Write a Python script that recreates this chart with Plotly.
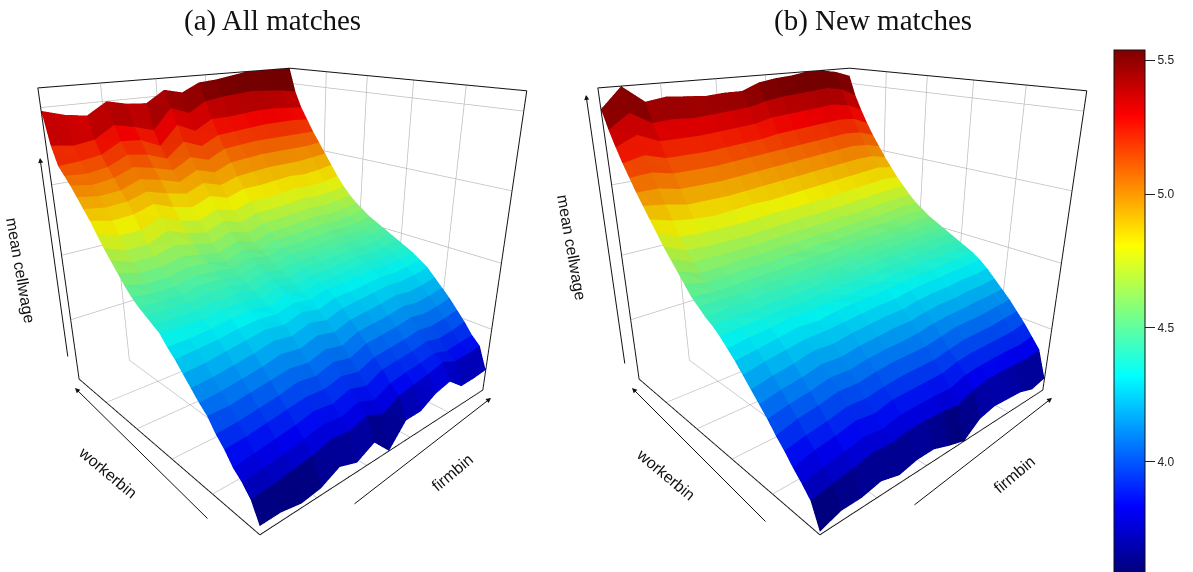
import plotly.graph_objects as go

W, H = 1193, 572

firm_bins = list(range(1, 16))
worker_bins = list(range(1, 31))

z_all = [
 [3.56,3.56,3.53,3.55,3.62,3.57,3.64,3.50,3.66,3.66,3.73,3.76,3.66,3.66,3.67],
 [3.69,3.70,3.72,3.74,3.78,3.76,3.80,3.74,3.81,3.83,3.85,3.88,3.83,3.83,3.84],
 [3.76,3.77,3.79,3.81,3.84,3.82,3.86,3.81,3.87,3.89,3.90,3.92,3.88,3.89,3.90],
 [3.81,3.83,3.85,3.87,3.90,3.88,3.92,3.88,3.94,3.95,3.96,3.98,3.95,3.96,3.98],
 [3.89,3.90,3.92,3.94,3.96,3.95,3.98,3.95,4.00,4.01,4.02,4.04,4.02,4.03,4.05],
 [3.95,3.96,3.98,4.00,4.03,4.01,4.05,4.02,4.07,4.08,4.09,4.11,4.09,4.10,4.12],
 [4.03,4.03,4.05,4.07,4.09,4.07,4.11,4.08,4.13,4.14,4.15,4.17,4.15,4.16,4.18],
 [4.08,4.09,4.11,4.13,4.16,4.14,4.18,4.15,4.19,4.20,4.21,4.23,4.21,4.22,4.24],
 [4.14,4.15,4.17,4.19,4.22,4.20,4.24,4.21,4.25,4.26,4.27,4.28,4.27,4.28,4.30],
 [4.20,4.21,4.23,4.25,4.27,4.25,4.29,4.26,4.30,4.30,4.31,4.32,4.31,4.32,4.34],
 [4.26,4.27,4.28,4.30,4.31,4.30,4.33,4.31,4.34,4.34,4.35,4.36,4.35,4.36,4.38],
 [4.31,4.31,4.32,4.34,4.35,4.33,4.37,4.34,4.37,4.37,4.38,4.39,4.38,4.39,4.41],
 [4.37,4.36,4.36,4.38,4.38,4.36,4.40,4.37,4.40,4.40,4.41,4.42,4.41,4.42,4.44],
 [4.40,4.39,4.39,4.41,4.41,4.39,4.43,4.40,4.43,4.43,4.44,4.45,4.44,4.45,4.47],
 [4.43,4.42,4.42,4.44,4.44,4.42,4.46,4.43,4.46,4.46,4.47,4.48,4.47,4.48,4.50],
 [4.46,4.45,4.45,4.47,4.47,4.45,4.49,4.46,4.49,4.49,4.50,4.51,4.50,4.51,4.53],
 [4.50,4.48,4.48,4.51,4.50,4.48,4.52,4.49,4.52,4.52,4.53,4.54,4.53,4.54,4.56],
 [4.55,4.52,4.52,4.55,4.54,4.51,4.56,4.52,4.56,4.56,4.57,4.58,4.57,4.58,4.60],
 [4.61,4.57,4.57,4.60,4.58,4.55,4.60,4.56,4.60,4.60,4.61,4.62,4.61,4.62,4.64],
 [4.67,4.62,4.62,4.66,4.63,4.60,4.65,4.61,4.65,4.65,4.66,4.67,4.66,4.67,4.69],
 [4.73,4.68,4.68,4.74,4.69,4.66,4.71,4.67,4.71,4.71,4.72,4.73,4.72,4.73,4.75],
 [4.80,4.76,4.76,4.82,4.76,4.73,4.78,4.74,4.78,4.78,4.79,4.80,4.79,4.80,4.82],
 [4.87,4.84,4.85,4.89,4.84,4.81,4.86,4.82,4.86,4.86,4.87,4.88,4.87,4.88,4.90],
 [4.93,4.91,4.92,4.96,4.92,4.89,4.94,4.90,4.94,4.95,4.96,4.96,4.96,4.97,4.98],
 [4.99,4.97,4.98,5.03,5.00,4.96,5.02,4.98,5.03,5.04,5.05,5.05,5.05,5.05,5.06],
 [5.05,5.03,5.05,5.10,5.07,5.03,5.10,5.06,5.12,5.13,5.14,5.14,5.14,5.14,5.14],
 [5.10,5.09,5.11,5.17,5.15,5.10,5.20,5.15,5.21,5.22,5.23,5.24,5.24,5.24,5.23],
 [5.15,5.16,5.18,5.25,5.24,5.18,5.31,5.25,5.32,5.32,5.33,5.34,5.34,5.33,5.32],
 [5.27,5.25,5.27,5.35,5.32,5.28,5.42,5.37,5.44,5.46,5.47,5.48,5.47,5.46,5.44],
 [5.48,5.44,5.42,5.50,5.47,5.46,5.54,5.51,5.57,5.58,5.60,5.62,5.62,5.62,5.62],
]

z_new = [
 [3.52,3.57,3.57,3.60,3.56,3.59,3.59,3.54,3.50,3.60,3.63,3.62,3.61,3.57,3.60],
 [3.68,3.71,3.73,3.76,3.75,3.77,3.77,3.76,3.74,3.79,3.81,3.81,3.80,3.79,3.81],
 [3.75,3.78,3.80,3.83,3.81,3.84,3.84,3.84,3.83,3.87,3.88,3.88,3.88,3.87,3.89],
 [3.81,3.85,3.87,3.90,3.88,3.91,3.91,3.91,3.91,3.94,3.95,3.95,3.95,3.95,3.97],
 [3.88,3.91,3.93,3.96,3.95,3.97,3.98,3.98,3.98,4.00,4.02,4.02,4.02,4.03,4.04],
 [3.94,3.98,4.00,4.03,4.02,4.04,4.05,4.05,4.05,4.07,4.09,4.09,4.09,4.10,4.11],
 [4.01,4.04,4.06,4.09,4.08,4.10,4.11,4.11,4.12,4.14,4.15,4.15,4.16,4.16,4.17],
 [4.07,4.10,4.12,4.15,4.14,4.16,4.17,4.18,4.18,4.20,4.21,4.21,4.22,4.22,4.23],
 [4.13,4.16,4.18,4.21,4.20,4.22,4.23,4.24,4.24,4.26,4.27,4.27,4.28,4.28,4.29],
 [4.19,4.22,4.24,4.26,4.26,4.27,4.28,4.29,4.29,4.31,4.32,4.32,4.33,4.33,4.34],
 [4.25,4.27,4.29,4.31,4.30,4.32,4.33,4.33,4.34,4.35,4.36,4.36,4.37,4.37,4.38],
 [4.30,4.32,4.33,4.35,4.35,4.36,4.36,4.37,4.37,4.39,4.39,4.40,4.40,4.41,4.41],
 [4.35,4.36,4.37,4.38,4.38,4.39,4.40,4.40,4.41,4.42,4.42,4.43,4.43,4.44,4.44],
 [4.39,4.40,4.40,4.41,4.41,4.42,4.43,4.43,4.44,4.45,4.45,4.46,4.46,4.47,4.47],
 [4.42,4.43,4.43,4.44,4.44,4.45,4.46,4.46,4.47,4.48,4.48,4.49,4.49,4.50,4.50],
 [4.46,4.46,4.46,4.47,4.47,4.48,4.49,4.49,4.50,4.51,4.51,4.52,4.52,4.53,4.53],
 [4.50,4.49,4.49,4.50,4.50,4.51,4.52,4.52,4.53,4.54,4.54,4.55,4.55,4.56,4.56],
 [4.56,4.53,4.53,4.54,4.54,4.55,4.55,4.56,4.56,4.57,4.58,4.58,4.59,4.60,4.60],
 [4.62,4.57,4.57,4.58,4.58,4.59,4.59,4.60,4.60,4.61,4.62,4.62,4.63,4.64,4.64],
 [4.68,4.62,4.62,4.62,4.62,4.63,4.64,4.64,4.65,4.66,4.66,4.67,4.68,4.69,4.69],
 [4.74,4.68,4.67,4.67,4.67,4.68,4.69,4.70,4.70,4.71,4.72,4.73,4.74,4.75,4.75],
 [4.81,4.75,4.74,4.74,4.74,4.75,4.76,4.76,4.77,4.78,4.79,4.80,4.81,4.82,4.81],
 [4.88,4.84,4.82,4.81,4.82,4.83,4.83,4.84,4.85,4.86,4.87,4.88,4.89,4.90,4.88],
 [4.95,4.93,4.90,4.90,4.90,4.91,4.92,4.93,4.94,4.95,4.96,4.97,4.98,4.98,4.95],
 [5.02,5.02,4.99,4.99,4.99,5.00,5.01,5.02,5.03,5.04,5.05,5.06,5.07,5.06,5.03],
 [5.10,5.11,5.08,5.08,5.08,5.09,5.10,5.11,5.12,5.13,5.14,5.15,5.16,5.15,5.11],
 [5.18,5.21,5.17,5.17,5.17,5.18,5.19,5.20,5.22,5.23,5.24,5.25,5.26,5.25,5.20],
 [5.27,5.33,5.27,5.27,5.27,5.28,5.29,5.30,5.33,5.34,5.35,5.36,5.37,5.35,5.30],
 [5.37,5.46,5.38,5.39,5.38,5.39,5.40,5.41,5.44,5.46,5.47,5.48,5.49,5.47,5.41],
 [5.49,5.62,5.51,5.53,5.52,5.51,5.52,5.52,5.57,5.59,5.60,5.62,5.62,5.60,5.56],
]

jet = [[0, "#00007F"], [0.125, "#0000FF"], [0.375, "#00FFFF"],
       [0.625, "#FFFF00"], [0.875, "#FF0000"], [1, "#7F0000"]]
ZMIN, ZMAX = 3.59, 5.54


def mesh(z, name, scene, show_bar):
    nr, nc = len(worker_bins), len(firm_bins)
    xs, ys, zs, i, j, k, cell = [], [], [], [], [], [], []
    for r in range(nr):
        for c in range(nc):
            xs.append(firm_bins[c]); ys.append(worker_bins[r]); zs.append(z[r][c])
    for r in range(nr - 1):
        for c in range(nc - 1):
            a, b = r * nc + c, r * nc + c + 1
            d, e = (r + 1) * nc + c, (r + 1) * nc + c + 1
            m = (z[r][c] + z[r][c + 1] + z[r + 1][c] + z[r + 1][c + 1]) / 4
            i += [a, b]; j += [b, e]; k += [d, d]
            cell += [m, m]
    return go.Mesh3d(
        x=xs, y=ys, z=zs, i=i, j=j, k=k, name=name, scene=scene,
        intensity=cell, intensitymode="cell", colorscale=jet, cmin=ZMIN, cmax=ZMAX,
        flatshading=True,
        lighting=dict(ambient=0.62, diffuse=0.32, specular=0.0, roughness=1, fresnel=0),
        lightposition=dict(x=-1000, y=-1000, z=3000),
        showscale=show_bar,
        colorbar=dict(
            x=1114 / W, xanchor="left", y=1 - 49.5 / H, yanchor="top",
            thickness=31, thicknessmode="pixels", len=522, lenmode="pixels",
            tickvals=[4.0, 4.5, 5.0, 5.5], ticktext=["4.0", "4.5", "5.0", "5.5"],
            ticks="outside", ticklen=10, tickwidth=1, tickcolor="#222",
            tickfont=dict(family="Liberation Sans", size=12, color="#222"),
            outlinecolor="#111", outlinewidth=1, xpad=0, ypad=0,
        ),
    )


def axis(rng, ticks):
    return dict(
        range=rng, title=dict(text=""), tickvals=ticks, showticklabels=False, ticks="",
        showgrid=True, gridcolor="#bdbdbd", gridwidth=1.5, zeroline=False,
        showline=True, linecolor="#111", linewidth=2, mirror=True,
        showbackground=False, showspikes=False,
    )


def scene(x0, x1, eye):
    return dict(
        domain=dict(x=[x0, x1], y=[0.025, 0.965]),
        xaxis=axis([1, 15], [3.8, 6.6, 9.4, 12.2]),
        yaxis=axis([1, 30], [6.8, 12.6, 18.4, 24.2]),
        zaxis=axis([3.50, 5.62], [4.0, 4.5, 5.0, 5.5]),
        aspectmode="manual", aspectratio=dict(x=0.76, y=0.75, z=0.75),
        camera=dict(eye=eye, up=dict(x=0, y=0, z=1), center=dict(x=0.0, y=0, z=-0.10),
                    projection=dict(type="perspective")),
    )


fig = go.Figure([mesh(z_all, "All matches", "scene", False),
                 mesh(z_new, "New matches", "scene2", True)])

ann = []


def text(x, y, s, size, font, angle=0):
    ann.append(dict(x=x / W, y=1 - y / H, xref="paper", yref="paper", text=s, showarrow=False,
                    textangle=angle, font=dict(family=font, size=size, color="#111"),
                    xanchor="center", yanchor="middle"))


def arrow(x0, y0, x1, y1):
    ann.append(dict(x=x1 / W, y=1 - y1 / H, xref="paper", yref="paper",
                    ax=x0 - x1, ay=y0 - y1, axref="pixel", ayref="pixel", text="",
                    showarrow=True, arrowhead=2, arrowsize=1, arrowwidth=1, arrowcolor="#111"))


text(272, 21, "(a) All matches", 29, "Liberation Serif")
text(873, 21, "(b) New matches", 29, "Liberation Serif")
sans = "Liberation Sans"
text(21, 270, "mean cellwage", 16, sans, 80)
text(108, 472, "workerbin", 16, sans, 40)
text(452, 472, "firmbin", 16, sans, -40)
text(572, 247, "mean cellwage", 16, sans, 80)
text(666, 474, "workerbin", 16, sans, 40)
text(1014, 474, "firmbin", 16, sans, -40)
arrow(68, 358, 40, 158)
arrow(209, 520, 75, 388)
arrow(353, 505, 491, 398)
arrow(625, 365, 586, 95)
arrow(767, 523, 632, 388)
arrow(913, 506, 1052, 398)

fig.update_layout(
    width=W, height=H, margin=dict(l=0, r=0, t=0, b=0, autoexpand=False), paper_bgcolor="white",
    showlegend=False, annotations=ann,
    scene=scene(0.001, 0.465, dict(x=-0.98, y=-1.10, z=0.54)),
    scene2=scene(0.4704, 0.9344, dict(x=-0.98, y=-1.10, z=0.54)),
)
fig.write_html("out.html", post_script="document.body.style.margin='0';",
               config=dict(displayModeBar=False))
